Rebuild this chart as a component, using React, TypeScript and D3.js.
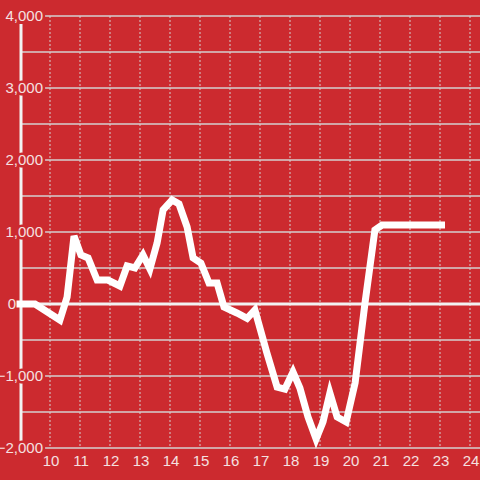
import React from "react";
import * as d3 from "d3";

const hours: number[] = [9.0, 9.5, 10.33, 10.57, 10.8, 11.03, 11.27, 11.57, 11.93, 12.33, 12.57, 12.83, 13.1, 13.33, 13.57, 13.77, 14.07, 14.3, 14.57, 14.77, 15.03, 15.3, 15.57, 15.8, 16.23, 16.57, 16.83, 17.23, 17.57, 17.83, 18.1, 18.33, 18.6, 18.87, 19.1, 19.33, 19.57, 19.87, 20.17, 20.5, 20.83, 21.07, 23.05];
const values: number[] = [0, 0, -222, 97, 944, 681, 639, 333, 333, 250, 528, 500, 681, 486, 847, 1306, 1444, 1389, 1069, 639, 569, 292, 292, -42, -125, -200, -83, -681, -1153, -1181, -944, -1167, -1569, -1875, -1639, -1236, -1569, -1639, -1097, 14, 1028, 1097, 1097];
const xTicks: number[] = [10, 11, 12, 13, 14, 15, 16, 17, 18, 19, 20, 21, 22, 23, 24];
const yGrid: number[] = [-2000, -1500, -1000, -500, 0, 500, 1000, 1500, 2000, 2500, 3000, 3500, 4000];
const yLabels: number[] = [-2000, -1000, 0, 1000, 2000, 3000, 4000];

const BG = "#cc2a2f";
const TEXT = "#f5e0e0";
const GRID = "#d4d0d0";

export default function App() {
  const W = 480, H = 480;
  const x = d3.scaleLinear().domain([9, 24]).range([20, 470]);
  const y = d3.scaleLinear().domain([-2000, 4000]).range([448, 16]);
  const pts: [number, number][] = hours.map((h, i) => [h, values[i]]);
  const line = d3.line<[number, number]>().x(d => x(d[0])).y(d => y(d[1]));
  const fmt = d3.format(",");
  const font = "'Liberation Sans', Arial, sans-serif";

  return (
    <svg width={W} height={H} style={{ position: "absolute", left: 0, top: 0, display: "block", background: BG }}>
      <rect x={0} y={0} width={W} height={H} fill={BG} />
      {xTicks.map(t => (
        <line key={"vx" + t} x1={x(t)} x2={x(t)} y1={y(4000)} y2={y(-2000)} stroke={GRID} strokeWidth={1} strokeDasharray="2,2" />
      ))}
      {yGrid.filter(v => v !== 0).map(v => {
        const labeled = yLabels.includes(v);
        return (
          <line key={"hy" + v} x1={labeled ? 45 : 22} x2={W} y1={y(v)} y2={y(v)} stroke={GRID} strokeWidth={1.5} />
        );
      })}
      <line x1={21} x2={21} y1={24} y2={y(-2000)} stroke="#f2f2f2" strokeWidth={3} />
      <line x1={17} x2={W} y1={y(0)} y2={y(0)} stroke="#f2f2f2" strokeWidth={3} />
      {yLabels.map(v => (
        <text key={"yl" + v} x={v === 0 ? 16 : 43} y={y(v)} dy="0.36em" textAnchor="end" fontFamily={font} fontSize={15}
          fill={TEXT} stroke={BG} strokeWidth={v === 0 ? 0 : 5} paintOrder="stroke" strokeLinejoin="round">{fmt(v)}</text>
      ))}
      {xTicks.map(t => (
        <text key={"xl" + t} x={x(t) + 1} y={466} textAnchor="middle" fontFamily={font} fontSize={15} fill={TEXT}>{t}</text>
      ))}
      <path d={line(pts) || ""} fill="none" stroke="#ffffff" strokeWidth={7} strokeLinecap="square" strokeLinejoin="miter" />
    </svg>
  );
}
